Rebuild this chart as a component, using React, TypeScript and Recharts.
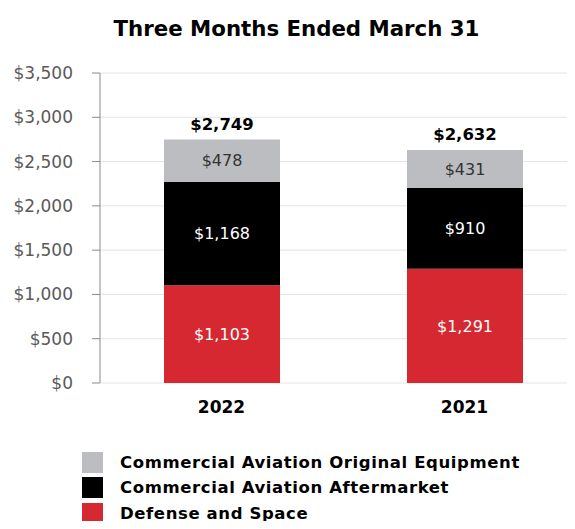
import React from "react";
import { BarChart, Bar, XAxis, YAxis, CartesianGrid, LabelList } from "recharts";

const categories = ["2022", "2021"];
const defenseSpace = [1103, 1291];
const aftermarket = [1168, 910];
const originalEquipment = [478, 431];
const totals = [2749, 2632];
const yTicks = [0, 500, 1000, 1500, 2000, 2500, 3000, 3500];

const seriesInfo = [
  { key: "oe", name: "Commercial Aviation Original Equipment", color: "#bcbdc0" },
  { key: "am", name: "Commercial Aviation Aftermarket", color: "#000000" },
  { key: "ds", name: "Defense and Space", color: "#d62830" },
];

const data = categories.map((c, i) => ({
  cat: c,
  ds: defenseSpace[i],
  am: aftermarket[i],
  oe: originalEquipment[i],
  total: totals[i],
}));

const money = (v: any) => "$" + Number(v).toLocaleString("en-US");
const FONT = "'DejaVu Sans', sans-serif";

export default function App() {
  return (
    <div style={{ position: "relative", width: 567, height: 513, overflowX: "clip", overflowY: "visible" } as any}>
      <div
        style={{
          position: "absolute",
          left: 0,
          top: 8,
          width: 577,
          textAlign: "center",
          fontFamily: FONT,
          fontWeight: "bold",
          fontSize: 21.3,
          color: "#000",
        }}
      >
        Three Months Ended March 31
      </div>
      <BarChart
        width={578}
        height={420}
        data={data}
        margin={{ top: 65, right: 0, bottom: 8, left: 0 }}
        barSize={116}
      >
        <CartesianGrid vertical={false} stroke="#e4e4e4" />
        <XAxis
          dataKey="cat"
          axisLine={false}
          tickLine={false}
          tickSize={0}
          tickMargin={18}
          height={37}
          tick={{ fontFamily: FONT, fontWeight: "bold", fontSize: 17, fill: "#000" }}
        />
        <YAxis
          width={92}
          domain={[0, 3500]}
          ticks={yTicks}
          tickFormatter={money}
          axisLine={{ stroke: "#8a8a8a" }}
          tickLine={{ stroke: "#8a8a8a" }}
          tickSize={8}
          tickMargin={19}
          tick={{ fontFamily: FONT, fontSize: 17, fill: "#5a5a5a" }}
        />
        <Bar dataKey="ds" stackId="a" fill="#d62830" isAnimationActive={false}>
          <LabelList dataKey="ds" position="center" formatter={money} fill="#ffffff" style={{ fontFamily: FONT, fontSize: 16 }} />
        </Bar>
        <Bar dataKey="am" stackId="a" fill="#000000" isAnimationActive={false}>
          <LabelList dataKey="am" position="center" formatter={money} fill="#ffffff" style={{ fontFamily: FONT, fontSize: 16 }} />
        </Bar>
        <Bar dataKey="oe" stackId="a" fill="#bcbdc0" isAnimationActive={false}>
          <LabelList dataKey="oe" position="center" formatter={money} fill="#333333" style={{ fontFamily: FONT, fontSize: 16 }} />
          <LabelList
            dataKey="total"
            position="top"
            offset={10}
            formatter={money}
            fill="#000000"
            style={{ fontFamily: FONT, fontSize: 16.5, fontWeight: "bold" }}
          />
        </Bar>
      </BarChart>
      {seriesInfo.map((s, i) => (
        <div
          key={s.key}
          style={{
            position: "absolute",
            left: 74,
            top: 443 + i * 25.5,
            height: 22,
            display: "flex",
            alignItems: "center",
          }}
        >
          <div style={{ width: 21, height: 21, background: s.color }} />
          <div
            style={{
              marginLeft: 17,
              fontFamily: FONT,
              fontWeight: "bold",
              fontSize: 16.5,
              letterSpacing: 0.6,
              color: "#000",
              whiteSpace: "nowrap",
            }}
          >
            {s.name}
          </div>
        </div>
      ))}
    </div>
  );
}
